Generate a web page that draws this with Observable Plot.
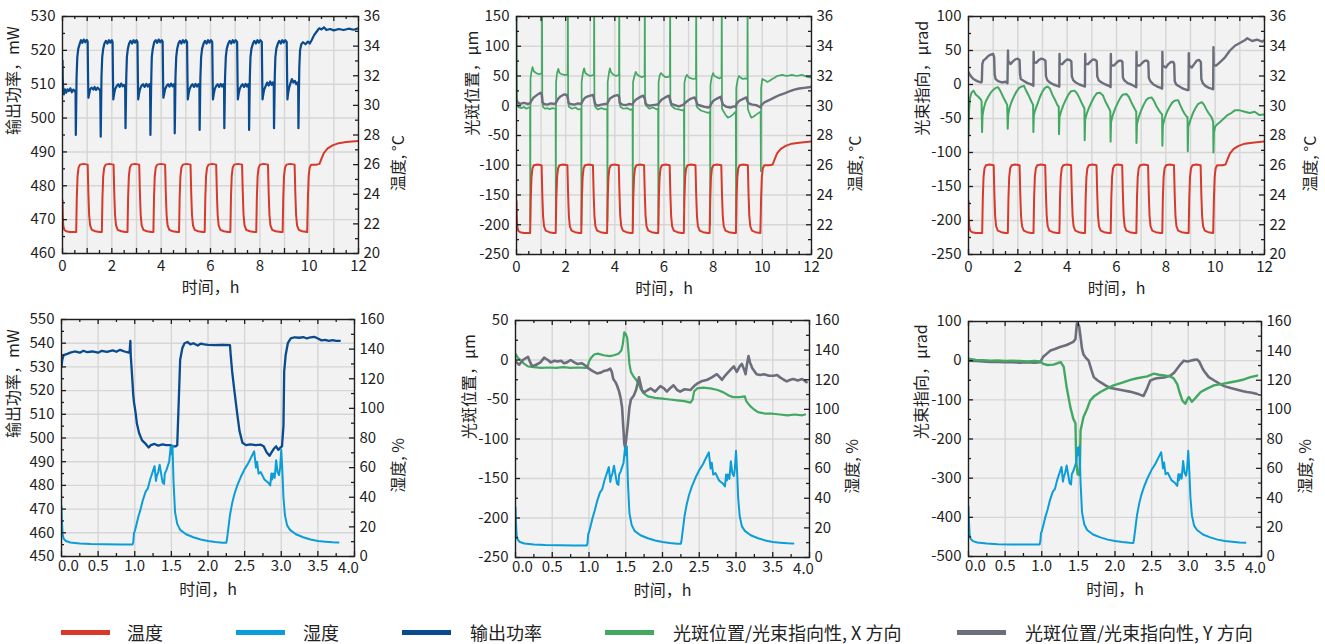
<!DOCTYPE html>
<html><head><meta charset="utf-8">
<script src="https://cdn.jsdelivr.net/npm/d3@7"></script>
<script src="https://cdn.jsdelivr.net/npm/@observablehq/plot@0.6"></script>
<style>
html,body{margin:0;padding:0;background:#fff;}
#root{position:relative;width:1325px;height:644px;overflow:hidden;font-family:"Noto Sans CJK SC","Noto Sans",sans-serif;}
.pnl{position:absolute;}
.pnl svg{overflow:visible;background:transparent;}
.sw{position:absolute;height:5px;top:630px;width:49px;}
.lt{position:absolute;top:619px;font-size:18px;line-height:26px;color:#222;white-space:pre;}
</style></head><body><div id="root"></div>
<script>
// ---------- colours ----------
const RED = "#d7392b", CYAN = "#0b9dd7", BLUE = "#0a4a8f", GREEN = "#43a862", GREY = "#6c6f7b";
const BG = "#f1f2f1", GRID = "#d5d6d5", INK = "#1e1e1e";

// ---------- tick arrays ----------
const hourLabels = [0, 2, 4, 6, 8, 10, 12];
const hourTicks = [0, 1, 2, 3, 4, 5, 6, 7, 8, 9, 10, 11, 12];
const hourMinor = [0.5, 1.5, 2.5, 3.5, 4.5, 5.5, 6.5, 7.5, 8.5, 9.5, 10.5, 11.5];
const hourGrid = [1, 2, 3, 4, 5, 6, 7, 8, 9, 10, 11];
const halfLabels = [0, 0.5, 1, 1.5, 2, 2.5, 3, 3.5, 4];
const halfMinor = [0.25, 0.75, 1.25, 1.75, 2.25, 2.75, 3.25, 3.75];
const halfGrid = [0.5, 1, 1.5, 2, 2.5, 3, 3.5];
const powerTopLabels = [460, 470, 480, 490, 500, 510, 520, 530];
const powerTopMinor = [465, 475, 485, 495, 505, 515, 525];
const tempLabels = [20, 22, 24, 26, 28, 30, 32, 34, 36];
const tempMinor = [21, 23, 25, 27, 29, 31, 33, 35];
const spotTopLabels = [-250, -200, -150, -100, -50, 0, 50, 100, 150];
const spotTopMinor = [-225, -175, -125, -75, -25, 25, 75, 125];
const beamTopLabels = [-250, -200, -150, -100, -50, 0, 50, 100];
const beamTopMinor = [-225, -175, -125, -75, -25, 25, 75];
const powerBotLabels = [450, 460, 470, 480, 490, 500, 510, 520, 530, 540, 550];
const powerBotMinor = [455, 465, 475, 485, 495, 505, 515, 525, 535, 545];
const humLabels = [0, 20, 40, 60, 80, 100, 120, 140, 160];
const humMinor = [10, 30, 50, 70, 90, 110, 130, 150];
const spotBotLabels = [-250, -200, -150, -100, -50, 0, 50];
const spotBotMinor = [-225, -175, -125, -75, -25, 25];
const beamBotLabels = [-500, -400, -300, -200, -100, 0, 100];
const beamBotMinor = [-450, -350, -250, -150, -50, 50];

// ---------- series (time h, value) ----------
const tempTop = [[0,23.6],[0.01,22.6],[0.03,21.9],[0.07,21.6],[0.15,21.5],[0.3,21.45],[0.555,21.45],
[0.58,23.8],[0.61,25.2],[0.65,25.8],[0.71,26.0],[0.85,26.05],[1.02,26.0],[1.05,24.0],[1.08,22.6],[1.12,21.9],[1.19,21.6],[1.33,21.5],[1.5,21.45],
[1.595,21.45],[1.62,23.8],[1.65,25.2],[1.69,25.8],[1.75,26.0],[1.9,26.05],[2.07,26.0],[2.10,24.0],[2.13,22.6],[2.17,21.9],[2.24,21.6],[2.38,21.5],[2.55,21.45],
[2.635,21.45],[2.66,23.8],[2.69,25.2],[2.73,25.8],[2.79,26.0],[2.94,26.05],[3.11,26.0],[3.14,24.0],[3.17,22.6],[3.21,21.9],[3.28,21.6],[3.42,21.5],[3.6,21.45],
[3.685,21.45],[3.71,23.8],[3.74,25.2],[3.78,25.8],[3.84,26.0],[3.99,26.05],[4.16,26.0],[4.19,24.0],[4.22,22.6],[4.26,21.9],[4.33,21.6],[4.47,21.5],[4.65,21.45],
[4.725,21.45],[4.75,23.8],[4.78,25.2],[4.82,25.8],[4.88,26.0],[5.03,26.05],[5.19,26.0],[5.22,24.0],[5.25,22.6],[5.29,21.9],[5.36,21.6],[5.5,21.5],[5.68,21.45],
[5.765,21.45],[5.79,23.8],[5.82,25.2],[5.86,25.8],[5.92,26.0],[6.07,26.05],[6.23,26.0],[6.26,24.0],[6.29,22.6],[6.33,21.9],[6.4,21.6],[6.54,21.5],[6.72,21.45],
[6.805,21.45],[6.83,23.8],[6.86,25.2],[6.9,25.8],[6.96,26.0],[7.11,26.05],[7.28,26.0],[7.31,24.0],[7.34,22.6],[7.38,21.9],[7.45,21.6],[7.59,21.5],[7.78,21.45],
[7.855,21.45],[7.88,23.8],[7.91,25.2],[7.95,25.8],[8.01,26.0],[8.16,26.05],[8.33,26.0],[8.36,24.0],[8.39,22.6],[8.43,21.9],[8.5,21.6],[8.64,21.5],[8.85,21.45],
[8.925,21.45],[8.95,23.8],[8.98,25.2],[9.02,25.8],[9.08,26.0],[9.23,26.05],[9.41,26.0],[9.44,24.0],[9.47,22.6],[9.51,21.9],[9.58,21.6],[9.72,21.5],[9.92,21.45],
[9.95,23.8],[9.98,25.2],[10.02,25.8],[10.08,26.0],[10.3,26.0],[10.42,26.05],[10.5,26.4],[10.6,26.8],[10.75,27.1],[10.95,27.3],[11.2,27.45],[11.5,27.52],[12,27.6]];

const powerTop = [[0,517],[0.01,512],[0.03,508],[0.06,507],[0.1,508.5],[0.15,507.5],[0.2,508.5],[0.26,508],[0.32,508.8],[0.38,507.6],[0.44,508.4],[0.5,508],[0.53,507.5],
[0.54,495],[0.555,503],[0.57,512],[0.6,518],[0.64,520.5],[0.7,522],[0.75,523],[0.8,522.2],[0.86,523.2],[0.92,522.4],[0.98,523.1],[1.02,522.6],[1.04,510],[1.05,506],[1.08,507],[1.12,508.5],[1.18,509],[1.25,508.4],[1.3,509.2],[1.36,508.3],[1.42,509],[1.48,508.6],[1.53,508],
[1.55,494.5],[1.565,503],[1.58,512],[1.61,518],[1.65,520.5],[1.7,522],[1.76,522.8],[1.82,522],[1.88,523],[1.94,522.3],[2.0,523],[2.03,522.5],[2.05,510],[2.06,505.5],[2.09,507],[2.13,508.5],[2.2,509.5],[2.26,510],[2.32,509.2],[2.38,510.2],[2.44,509.4],[2.5,509.8],[2.54,509],
[2.555,497],[2.57,504],[2.585,512],[2.61,518],[2.65,520.5],[2.7,522],[2.76,522.8],[2.82,522],[2.88,523],[2.94,522.3],[3.0,523],[3.04,522.5],[3.06,510],[3.07,505.5],[3.1,507],[3.14,508.5],[3.2,509.5],[3.27,510],[3.33,509.2],[3.4,510.1],[3.46,509.3],[3.52,510],[3.55,509.2],
[3.565,495],[3.58,503],[3.6,512],[3.62,518],[3.66,520.5],[3.72,522.5],[3.78,523],[3.84,522.2],[3.9,523.2],[3.96,522.4],[4.02,523],[4.06,522.6],[4.08,510],[4.09,506],[4.12,507],[4.16,508.5],[4.22,509.5],[4.28,510],[4.34,509.3],[4.4,510.2],[4.46,509.4],[4.52,510],[4.54,509.2],
[4.55,495.5],[4.565,503],[4.58,512],[4.61,518],[4.65,520.5],[4.7,522],[4.76,522.8],[4.82,522],[4.88,523],[4.94,522.3],[5.0,523],[5.05,522.5],[5.07,510],[5.08,505.5],[5.11,507],[5.15,508.5],[5.21,509.5],[5.27,510],[5.33,509.2],[5.39,510.1],[5.45,509.3],[5.51,510],[5.55,509.2],
[5.56,496.5],[5.575,504],[5.59,512],[5.62,518],[5.66,520.5],[5.72,522],[5.78,522.8],[5.84,522],[5.9,523],[5.96,522.3],[6.02,523],[6.07,522.5],[6.09,510],[6.1,505.5],[6.13,507],[6.17,508.5],[6.23,509.5],[6.29,510],[6.35,509.2],[6.41,510.1],[6.47,509.3],[6.52,510],[6.55,509.2],
[6.56,497],[6.575,504],[6.59,512],[6.62,518],[6.66,520.5],[6.72,522],[6.78,522.8],[6.84,522],[6.9,523],[6.96,522.3],[7.02,523],[7.08,522.5],[7.1,510],[7.11,505.5],[7.14,507],[7.18,508.5],[7.24,509.5],[7.3,510],[7.36,509.2],[7.42,510.1],[7.48,509.3],[7.53,510],[7.555,509.2],
[7.565,496.5],[7.58,504],[7.595,512],[7.62,518],[7.66,520.5],[7.72,522],[7.78,522.8],[7.84,522],[7.9,523],[7.96,522.3],[8.02,523],[8.08,522.5],[8.1,510],[8.11,505.5],[8.14,507],[8.18,508.5],[8.24,509.5],[8.3,510.5],[8.36,509.6],[8.42,510.8],[8.48,509.8],[8.53,510.5],[8.565,509.8],
[8.575,497],[8.59,504],[8.605,512],[8.63,518],[8.67,520.5],[8.73,522],[8.79,522.8],[8.85,522],[8.91,523],[8.97,522.3],[9.03,523],[9.09,522.5],[9.11,510],[9.12,505.5],[9.15,507.5],[9.19,509],[9.25,510.5],[9.3,511.5],[9.36,510.5],[9.42,511],[9.48,510],[9.53,510.5],[9.555,509.5],
[9.565,497],[9.58,505],[9.6,515],[9.63,520],[9.68,521.8],[9.75,522.4],[9.85,521.8],[9.95,522.6],[10.02,522],[10.1,523],[10.2,524.5],[10.3,525.5],[10.4,526.5],[10.5,526.2],[10.6,526.8],[10.7,526],[10.85,526.3],[11,525.9],[11.2,526.3],[11.4,526],[11.6,526.4],[11.8,526.1],[12,526.5]];

const spotXTop = [[0,160],[0.01,60],[0.02,10],[0.05,0],[0.1,-3],[0.2,-4],[0.3,-2],[0.4,-5],[0.5,-3],[0.55,-2],
[0.56,-195],[0.57,45],[0.6,55],[0.65,65],[0.7,58],[0.8,55],[0.9,53],[1.0,54],[1.035,55],[1.04,200],[1.05,5],[1.08,-2],[1.15,-5],[1.25,-4],[1.35,-6],[1.45,-4],[1.59,-5],
[1.6,-193],[1.61,40],[1.65,55],[1.7,62],[1.75,55],[1.85,53],[1.95,52],[2.08,52],[2.09,200],[2.1,5],[2.14,-2],[2.25,-5],[2.4,-3],[2.5,-6],[2.63,-5],
[2.64,-200],[2.65,40],[2.7,55],[2.75,63],[2.8,55],[2.9,52],[3.0,50],[3.15,52],[3.16,200],[3.17,5],[3.2,-2],[3.3,-6],[3.45,-4],[3.6,-6],[3.69,-5],
[3.7,-195],[3.71,40],[3.76,55],[3.8,63],[3.85,56],[3.95,52],[4.05,50],[4.17,52],[4.18,200],[4.19,5],[4.23,-2],[4.35,-5],[4.5,-4],[4.65,-7],[4.72,-5],
[4.73,-205],[4.74,40],[4.8,50],[4.85,57],[4.92,52],[5.0,50],[5.1,48],[5.21,50],[5.22,200],[5.23,5],[5.27,0],[5.4,-5],[5.55,-3],[5.7,-6],[5.76,-5],
[5.77,-200],[5.78,40],[5.83,52],[5.88,55],[5.95,52],[6.05,48],[6.15,48],[6.24,50],[6.25,200],[6.26,5],[6.3,0],[6.45,-5],[6.6,-6],[6.75,-8],[6.81,-6],
[6.82,-170],[6.83,38],[6.88,48],[6.93,52],[7.0,48],[7.1,46],[7.2,45],[7.3,46],[7.31,200],[7.32,0],[7.36,-3],[7.5,-8],[7.65,-10],[7.8,-12],[7.87,-10],
[7.88,-200],[7.89,35],[7.94,48],[8.0,55],[8.05,50],[8.15,48],[8.25,46],[8.34,48],[8.35,200],[8.36,-5],[8.4,-8],[8.5,-15],[8.6,-20],[8.7,-18],[8.8,-15],[8.92,-10],
[8.93,-190],[8.94,30],[9.0,45],[9.05,50],[9.1,48],[9.2,45],[9.3,46],[9.39,45],[9.4,200],[9.41,-5],[9.45,-10],[9.55,-20],[9.65,-18],[9.75,-15],[9.85,-12],[9.93,-10],
[9.94,-110],[9.95,30],[10.0,45],[10.1,43],[10.2,40],[10.3,42],[10.4,45],[10.5,47],[10.6,50],[10.8,52],[11.0,50],[11.2,52],[11.4,50],[11.6,52],[11.8,49],[12,47]];

const spotYTop = [[0,10],[0.05,6],[0.15,3],[0.3,5],[0.45,3],[0.55,4],
[0.6,8],[0.7,14],[0.8,17],[0.9,20],[0.98,22],[1.03,18],[1.06,6],[1.12,3],[1.25,2],[1.4,4],[1.55,3],
[1.6,5],[1.7,12],[1.8,16],[1.95,19],[2.05,18],[2.09,12],[2.12,5],[2.2,3],[2.35,2],[2.5,4],[2.62,3],
[2.65,5],[2.75,12],[2.85,15],[3.0,17],[3.12,18],[3.16,10],[3.2,3],[3.3,0],[3.45,2],[3.6,3],[3.68,3],
[3.72,6],[3.8,12],[3.95,16],[4.1,18],[4.17,16],[4.2,5],[4.3,2],[4.45,1],[4.6,3],[4.72,2],
[4.75,5],[4.85,10],[5.0,14],[5.15,17],[5.22,12],[5.26,3],[5.4,0],[5.55,1],[5.7,2],[5.76,2],
[5.8,5],[5.9,10],[6.05,14],[6.2,17],[6.25,10],[6.3,3],[6.45,1],[6.6,-1],[6.75,1],[6.8,2],
[6.84,4],[6.95,8],[7.1,12],[7.25,14],[7.31,8],[7.36,2],[7.5,0],[7.65,-2],[7.8,-3],[7.87,-2],
[7.9,2],[8.0,8],[8.15,12],[8.3,15],[8.35,8],[8.4,2],[8.55,-2],[8.7,-3],[8.85,-1],[8.92,-2],
[8.95,3],[9.05,8],[9.2,11],[9.35,14],[9.4,7],[9.45,4],[9.6,2],[9.75,1],[9.85,-1],[9.93,-3],
[9.98,2],[10.1,6],[10.3,10],[10.5,14],[10.7,18],[10.9,21],[11.1,24],[11.3,27],[11.5,29],[11.7,30],[11.9,31],[12,32]];

const beamXTop = [[0,-75],[0.02,-40],[0.06,-20],[0.12,-12],[0.2,-9],[0.3,-15],[0.4,-18],[0.5,-22],[0.53,-25],
[0.55,-70],[0.57,-45],[0.62,-35],[0.7,-25],[0.8,-18],[0.9,-12],[1.0,-8],[1.1,-5],[1.2,-4],[1.3,-10],[1.4,-18],[1.5,-25],[1.57,-30],
[1.59,-65],[1.61,-45],[1.66,-35],[1.75,-25],[1.85,-17],[1.95,-10],[2.05,-5],[2.15,-3],[2.25,-2],[2.35,-10],[2.45,-17],[2.55,-25],[2.62,-30],
[2.63,-70],[2.65,-45],[2.7,-38],[2.8,-28],[2.9,-18],[3.0,-10],[3.1,-5],[3.2,-3],[3.3,-6],[3.4,-15],[3.5,-22],[3.6,-30],[3.66,-33],
[3.67,-73],[3.69,-48],[3.75,-40],[3.85,-30],[3.95,-22],[4.05,-15],[4.15,-10],[4.3,-9],[4.4,-13],[4.5,-20],[4.6,-28],[4.67,-33],[4.7,-35],
[4.71,-82],[4.73,-52],[4.8,-42],[4.9,-33],[5.0,-25],[5.1,-18],[5.2,-13],[5.33,-12],[5.45,-16],[5.55,-25],[5.65,-32],[5.72,-37],[5.75,-40],
[5.76,-84],[5.78,-55],[5.85,-45],[5.95,-35],[6.05,-27],[6.15,-20],[6.25,-15],[6.4,-14],[6.5,-18],[6.6,-26],[6.7,-33],[6.77,-38],[6.8,-40],
[6.81,-86],[6.83,-58],[6.9,-48],[7.0,-38],[7.1,-30],[7.2,-23],[7.3,-20],[7.42,-19],[7.52,-24],[7.62,-32],[7.72,-38],[7.8,-42],[7.85,-44],
[7.86,-90],[7.88,-60],[7.95,-50],[8.05,-40],[8.15,-33],[8.25,-27],[8.35,-24],[8.5,-23],[8.58,-30],[8.67,-37],[8.76,-43],[8.84,-47],[8.88,-48],
[8.89,-98],[8.91,-62],[9.0,-52],[9.1,-42],[9.2,-35],[9.3,-29],[9.4,-27],[9.46,-26],[9.55,-30],[9.65,-37],[9.75,-43],[9.85,-48],[9.92,-55],
[9.93,-100],[9.95,-70],[10.0,-62],[10.1,-58],[10.2,-55],[10.35,-50],[10.5,-45],[10.65,-42],[10.8,-38],[11.0,-38],[11.2,-40],[11.4,-42],[11.6,-40],[11.8,-45],[12,-44]];

const beamYTop = [[0,18],[0.1,12],[0.2,8],[0.35,5],[0.5,3],[0.54,4],
[0.56,30],[0.6,35],[0.7,38],[0.8,42],[0.9,44],[1.0,45],[1.04,40],[1.06,15],[1.1,8],[1.2,5],[1.35,3],[1.5,4],[1.58,2],
[1.6,50],[1.61,35],[1.7,30],[1.8,34],[1.9,37],[2.0,38],[2.07,36],[2.09,15],[2.12,8],[2.25,5],[2.4,2],[2.55,0],[2.63,-2],
[2.64,48],[2.65,33],[2.75,32],[2.85,36],[2.95,38],[3.05,37],[3.12,35],[3.14,12],[3.2,6],[3.3,3],[3.45,0],[3.6,-2],[3.68,-3],
[3.69,45],[3.7,30],[3.8,30],[3.9,34],[4.0,37],[4.1,36],[4.17,34],[4.19,12],[4.25,6],[4.35,3],[4.5,0],[4.65,-2],[4.72,-3],
[4.73,45],[4.74,30],[4.85,30],[4.95,34],[5.05,37],[5.15,36],[5.2,34],[5.22,12],[5.28,6],[5.4,3],[5.55,0],[5.7,-2],[5.76,-4],
[5.77,45],[5.78,28],[5.9,28],[6.0,32],[6.1,35],[6.2,35],[6.24,33],[6.26,10],[6.32,6],[6.45,2],[6.6,0],[6.75,-3],[6.8,-4],
[6.81,48],[6.82,28],[6.95,28],[7.05,32],[7.15,35],[7.25,35],[7.29,33],[7.31,10],[7.37,5],[7.5,0],[7.65,-3],[7.8,-5],[7.85,-6],
[7.86,48],[7.87,28],[8.0,25],[8.1,30],[8.2,33],[8.3,33],[8.34,30],[8.36,5],[8.42,0],[8.55,-3],[8.7,-6],[8.85,-8],[8.92,-8],
[8.93,46],[8.94,28],[9.05,25],[9.15,30],[9.25,35],[9.35,36],[9.42,33],[9.44,8],[9.5,2],[9.6,-2],[9.75,-5],[9.85,-6],[9.92,-7],
[9.93,55],[9.94,28],[10.05,28],[10.2,33],[10.4,40],[10.6,50],[10.8,57],[11.0,61],[11.2,65],[11.3,68],[11.5,64],[11.7,66],[11.9,63],[12,65]];

const humidity = [[0,34],[0.005,25],[0.015,15],[0.03,12],[0.06,10.5],[0.12,9.5],[0.25,8.8],[0.4,8.4],[0.6,8.2],[0.8,8.1],[0.97,8.1],
[0.98,10],[0.99,16],[1.0,17],[1.02,21],[1.05,27],[1.08,32],[1.11,38],[1.15,44],[1.18,46],[1.21,52],[1.25,58],[1.27,61],[1.29,51],[1.3,54],[1.32,57],[1.34,62],[1.36,56],[1.38,50],[1.4,49],[1.41,56],[1.43,58],[1.45,61],[1.47,64],[1.49,74],[1.505,69],[1.515,75],
[1.53,50],[1.55,30],[1.58,22],[1.62,18],[1.7,15],[1.8,13],[1.9,11.5],[2.0,10.5],[2.1,9.8],[2.2,9.3],[2.25,9.2],
[2.26,12],[2.28,20],[2.3,28],[2.33,36],[2.36,42],[2.4,48],[2.45,54],[2.5,59],[2.55,63],[2.6,68],[2.63,71],[2.655,60],[2.67,64],[2.69,56],[2.72,57],[2.77,52],[2.82,50],[2.85,48],[2.865,56],[2.875,52],[2.89,56],[2.91,53],[2.93,65],[2.95,57],[2.97,55],[2.985,60],[3.0,72],[3.015,58],
[3.03,40],[3.05,28],[3.08,21],[3.12,18],[3.2,15],[3.3,13],[3.4,11.5],[3.5,10.5],[3.6,10],[3.7,9.6],[3.78,9.4]];

const powerBot = [[0,530],[0.01,533],[0.03,535],[0.08,535.5],[0.12,536],[0.18,536.5],[0.25,536],[0.3,536.8],[0.35,536.2],[0.42,536.5],[0.5,536],[0.55,536.8],[0.62,536.3],[0.7,537],[0.75,536.4],[0.8,537.2],[0.86,536.5],[0.92,536],[0.93,536.5],
[0.94,541],[0.945,535],[0.96,528],[0.98,518],[0.99,515],[1.01,511],[1.03,506],[1.06,502],[1.1,499],[1.15,497.5],[1.19,496],[1.22,497],[1.27,497.5],[1.32,496.8],[1.38,497.3],[1.43,497],[1.48,497],[1.52,496.5],[1.56,496.5],[1.58,497],
[1.6,515],[1.62,533],[1.65,538],[1.68,540],[1.72,540.5],[1.76,539.5],[1.8,540],[1.86,539],[1.9,539.8],[1.95,539.5],[2.0,539.3],[2.1,539.2],[2.2,539.3],[2.3,539.2],
[2.31,535],[2.33,528],[2.36,520],[2.4,510],[2.43,503],[2.47,498],[2.52,497],[2.58,497.3],[2.65,497],[2.72,497.2],[2.76,496.5],[2.8,494],[2.84,492.5],[2.87,494],[2.9,495.5],[2.93,496.5],[2.96,495],[2.99,496],[3.01,496.5],
[3.03,505],[3.04,528],[3.06,535],[3.09,540],[3.13,542],[3.18,542.5],[3.25,542.3],[3.3,542.6],[3.35,542],[3.4,542.5],[3.45,542.7],[3.5,542],[3.55,541.2],[3.6,541.4],[3.65,541],[3.7,541.3],[3.75,541],[3.8,541]];

const spotXBot = [[0,8],[0.03,3],[0.07,0],[0.12,-5],[0.17,-8],[0.25,-9],[0.35,-10],[0.45,-9.5],[0.55,-10],[0.65,-9],[0.75,-10],[0.85,-9.5],[0.95,-10],[0.98,-9],
[1.0,-2],[1.03,3],[1.07,7],[1.12,8],[1.2,6],[1.28,5],[1.34,6],[1.4,8],[1.44,12],[1.46,20],[1.48,35],[1.5,33],[1.52,28],[1.53,18],[1.55,-5],[1.57,-15],[1.6,-20],[1.64,-25],[1.67,-29],[1.7,-36],[1.74,-42],[1.8,-46],[1.9,-48],[2.0,-49],[2.1,-50],[2.2,-51],[2.3,-52],[2.38,-54],
[2.41,-50],[2.43,-40],[2.47,-36],[2.55,-35],[2.65,-36],[2.75,-38],[2.83,-41],[2.9,-45],[2.96,-47],[3.05,-47],[3.12,-46],[3.14,-52],[3.19,-58],[3.25,-63],[3.3,-66],[3.4,-68],[3.5,-68],[3.6,-69],[3.7,-70],[3.8,-69],[3.9,-70],[3.94,-69]];

const spotYBot = [[0,-2],[0.05,-6],[0.1,0],[0.17,4],[0.2,-3],[0.23,-8],[0.28,-6],[0.34,-3],[0.39,3],[0.44,0],[0.48,-3],[0.53,-1],[0.57,-2],[0.62,-1],[0.66,-4],[0.7,-3],[0.75,0],[0.8,-3],[0.84,-5],[0.9,-4],[0.95,-7],
[1.0,-11],[1.05,-14],[1.11,-17],[1.16,-16],[1.2,-14],[1.25,-13],[1.29,-11],[1.31,-15],[1.33,-24],[1.36,-28],[1.38,-32],[1.41,-40],[1.43,-48],[1.45,-60],[1.47,-90],[1.48,-106],[1.49,-110],[1.5,-105],[1.51,-97],[1.53,-80],[1.55,-60],[1.57,-50],
[1.61,-45],[1.64,-38],[1.66,-30],[1.68,-22],[1.7,-30],[1.72,-38],[1.75,-41],[1.8,-38],[1.84,-36],[1.9,-40],[1.97,-33],[2.02,-36],[2.06,-40],[2.1,-36],[2.15,-32],[2.2,-38],[2.24,-40],[2.3,-37],[2.38,-38],
[2.43,-33],[2.47,-30],[2.53,-27],[2.61,-25],[2.67,-22],[2.74,-18],[2.78,-22],[2.81,-25],[2.85,-20],[2.88,-17],[2.93,-12],[2.97,-8],[3.0,-13],[3.01,-15],[3.05,-8],[3.08,-5],[3.11,-12],[3.13,-18],[3.15,-5],[3.17,5],[3.19,-3],[3.22,-10],
[3.28,-18],[3.33,-19],[3.38,-18],[3.45,-20],[3.51,-20],[3.56,-19],[3.6,-22],[3.65,-25],[3.69,-27],[3.74,-25],[3.78,-24],[3.84,-26],[3.9,-24],[3.96,-28]];

const beamXBot = [[0,5],[0.1,2],[0.2,1],[0.3,0],[0.4,0.5],[0.5,-1],[0.6,0],[0.7,-1],[0.8,-2],[0.9,-1],[0.98,-2],
[1.02,-8],[1.08,-11],[1.16,-10],[1.22,-6],[1.26,-4],[1.3,-16],[1.34,-68],[1.39,-118],[1.43,-148],[1.46,-160],[1.47,-255],[1.49,-290],[1.51,-292],[1.52,-275],[1.53,-178],[1.57,-144],[1.62,-123],[1.66,-102],
[1.72,-90],[1.8,-80],[1.9,-70],[1.98,-63],[2.1,-56],[2.21,-49],[2.3,-45],[2.44,-40],[2.53,-33],[2.6,-36],[2.67,-38],[2.75,-40],[2.8,-45],[2.85,-60],[2.88,-80],[2.92,-102],[2.96,-110],[2.99,-98],[3.01,-93],[3.05,-105],[3.1,-95],
[3.17,-80],[3.25,-72],[3.35,-63],[3.45,-60],[3.58,-55],[3.67,-52],[3.76,-48],[3.85,-42],[3.94,-38]];

const beamYBot = [[0,0],[0.1,-1],[0.2,-2],[0.3,-3],[0.4,-3],[0.5,-4],[0.6,-4],[0.7,-5],[0.8,-4],[0.9,-5],[0.98,-4],
[1.02,10],[1.07,18],[1.12,26],[1.18,30],[1.25,35],[1.34,40],[1.43,48],[1.46,55],[1.48,95],[1.5,92],[1.51,88],[1.53,60],[1.55,30],[1.57,16],[1.6,8],[1.64,0],[1.68,-25],[1.71,-42],[1.76,-50],[1.8,-55],[1.87,-63],[1.94,-70],
[2.03,-73],[2.12,-76],[2.2,-79],[2.26,-82],[2.33,-86],[2.39,-90],[2.44,-70],[2.48,-51],[2.53,-47],[2.57,-45],[2.67,-43],[2.76,-38],[2.81,-30],[2.85,-20],[2.9,-8],[2.94,0],[2.99,-2],[3.03,0],[3.08,2],[3.12,3],[3.15,-2],
[3.17,-10],[3.2,-22],[3.23,-30],[3.28,-42],[3.35,-50],[3.42,-58],[3.49,-65],[3.58,-70],[3.67,-74],[3.75,-78],[3.8,-80],[3.87,-82],[3.94,-85]];

// ---------- panel builder ----------
const ML = 60, MR = 60, MT = 16, MB = 50;
const FONT = '"Noto Sans CJK SC","Noto Sans",sans-serif';

function panel(c) {
  const [y0, y1] = c.yDomain, [r0, r1] = c.rDomain;
  const toL = v => y0 + (v - r0) / (r1 - r0) * (y1 - y0);
  const fromL = v => r0 + (v - y0) / (y1 - y0) * (r1 - r0);
  const fw = c.frame[1] - c.frame[0], fh = c.frame[3] - c.frame[2];
  const tk = {stroke: INK, strokeWidth: 1.3};
  const marks = [
    Plot.frame({fill: BG, stroke: null}),
    Plot.gridX(c.xGrid, {stroke: GRID, strokeOpacity: 1, strokeWidth: 1.4}),
    Plot.gridY(c.yLabels, {stroke: GRID, strokeOpacity: 1, strokeWidth: 1.4}),
  ];
  for (const s of c.series) {
    marks.push(Plot.line(s.data, {x: d => d[0], y: s.right ? d => toL(d[1]) : d => d[1], stroke: s.color, strokeWidth: s.w, clip: true}));
  }
  const xl = c.xLabels.filter(d => d !== 0 && d !== c.xDomain[1]);
  marks.push(
    Plot.frame({stroke: INK, strokeWidth: 1.4}),
    Plot.tickY(c.yLabels, {y: d => d, insetRight: fw - 5, ...tk}),
    Plot.tickY(c.yMinor, {y: d => d, insetRight: fw - 3, ...tk}),
    Plot.tickY(c.rLabels, {y: d => toL(d), insetLeft: fw - 5, ...tk}),
    Plot.tickY(c.rMinor, {y: d => toL(d), insetLeft: fw - 3, ...tk}),
    Plot.tickX(c.xTicks, {x: d => d, insetTop: fh - 5, ...tk}),
    Plot.tickX(c.xTicks, {x: d => d, insetBottom: fh - 5, ...tk}),
    Plot.tickX(c.xMinor, {x: d => d, insetTop: fh - 3, ...tk}),
    Plot.tickX(c.xMinor, {x: d => d, insetBottom: fh - 3, ...tk}),
    Plot.axisX(xl, {tickSize: 0, tickPadding: c.xPad, tickFormat: c.xFmt, label: null, fill: INK}),
    Plot.axisX([0], {tickSize: 0, tickPadding: c.xPad, tickFormat: c.xFmt, label: null, dx: c.zeroDx, fill: INK}),
    Plot.axisX([c.xDomain[1]], {tickSize: 0, tickPadding: c.xPad + c.endDy, tickFormat: c.xFmt, label: null, dx: c.endDx, fill: INK}),
    Plot.axisY(c.yLabels, {anchor: "left", tickSize: 0, tickPadding: 7, tickFormat: d => String(d), label: null, fill: INK}),
    Plot.axisY(c.rLabels.map(toL), {anchor: "right", tickSize: 0, tickPadding: 5, tickFormat: d => String(Math.round(fromL(d))), label: null, fill: INK}),
    Plot.text([c.yTitle], {text: d => d, frameAnchor: "left", dx: -c.yTitleDx, rotate: -90, fontSize: 16, fill: INK}),
    Plot.text([c.rTitle], {text: d => d, frameAnchor: "right", dx: c.rTitleDx, rotate: -90, fontSize: 16, fill: INK}),
    Plot.text([c.xTitle], {text: d => d, frameAnchor: "bottom", dy: c.xTitleDy, fontSize: 16, fill: INK})
  );
  const svg = Plot.plot({
    width: fw + ML + MR, height: fh + MT + MB,
    marginLeft: ML, marginRight: MR, marginTop: MT, marginBottom: MB,
    x: {domain: c.xDomain}, y: {domain: c.yDomain},
    style: {fontSize: "15px", fontFamily: FONT, background: "transparent", overflow: "visible", color: INK},
    marks
  });
  const div = document.createElement("div");
  div.className = "pnl";
  div.style.left = (c.frame[0] - ML) + "px";
  div.style.top = (c.frame[2] - MT) + "px";
  div.appendChild(svg);
  document.getElementById("root").appendChild(div);
}

const topCommon = {xDomain: [0, 12], xLabels: hourLabels, xTicks: hourTicks, xMinor: hourMinor, xGrid: hourGrid,
  xFmt: d => String(d), xPad: 7, zeroDx: 0, endDx: 0, endDy: 0, rDomain: [20, 36], rLabels: tempLabels, rMinor: tempMinor, rTitle: "温度, °C", xTitle: "时间，h", xTitleDy: 39};
const botCommon = {xDomain: [0, 4], xLabels: halfLabels, xTicks: halfLabels, xMinor: halfMinor, xGrid: halfGrid,
  xFmt: d => d.toFixed(1), xPad: 4, zeroDx: 7, endDx: -6, endDy: 2, rDomain: [0, 160], rLabels: humLabels, rMinor: humMinor, rTitle: "湿度, %", xTitle: "时间，h", xTitleDy: 38};

panel({...topCommon, frame: [62, 358, 16, 253], yDomain: [460, 530], yLabels: powerTopLabels, yMinor: powerTopMinor,
  yTitle: "输出功率，mW", yTitleDx: 49, rTitleDx: 40,
  series: [{data: powerTop, color: BLUE, w: 2.2}, {data: tempTop, color: RED, w: 2, right: true}]});
panel({...topCommon, frame: [516, 811, 16, 254], yDomain: [-250, 150], yLabels: spotTopLabels, yMinor: spotTopMinor,
  yTitle: "光斑位置，µm", yTitleDx: 44, rTitleDx: 44,
  series: [{data: spotXTop, color: GREEN, w: 1.7}, {data: spotYTop, color: GREY, w: 2.4}, {data: tempTop, color: RED, w: 2, right: true}]});
panel({...topCommon, frame: [968, 1264, 16, 254], yDomain: [-250, 100], yLabels: beamTopLabels, yMinor: beamTopMinor,
  yTitle: "光束指向，µrad", yTitleDx: 46, rTitleDx: 46,
  series: [{data: beamXTop, color: GREEN, w: 2}, {data: beamYTop, color: GREY, w: 2.4}, {data: tempTop, color: RED, w: 2, right: true}]});
panel({...botCommon, frame: [61, 354, 319, 556], yDomain: [450, 550], yLabels: powerBotLabels, yMinor: powerBotMinor,
  yTitle: "输出功率，mW", yTitleDx: 48, rTitleDx: 44,
  series: [{data: powerBot, color: BLUE, w: 2.3}, {data: humidity, color: CYAN, w: 2, right: true}]});
panel({...botCommon, frame: [515, 809, 320, 557], yDomain: [-250, 50], yLabels: spotBotLabels, yMinor: spotBotMinor,
  yTitle: "光斑位置，µm", yTitleDx: 46, rTitleDx: 43,
  series: [{data: spotXBot, color: GREEN, w: 2.2}, {data: spotYBot, color: GREY, w: 2.6}, {data: humidity, color: CYAN, w: 2, right: true}]});
panel({...botCommon, frame: [968, 1261, 321, 556], yDomain: [-500, 100], yLabels: beamBotLabels, yMinor: beamBotMinor,
  yTitle: "光束指向，µrad", yTitleDx: 47, rTitleDx: 44,
  series: [{data: beamYBot, color: GREY, w: 2.6}, {data: beamXBot, color: GREEN, w: 2.4}, {data: humidity, color: CYAN, w: 2, right: true}]});

// ---------- legend ----------
const legendItems = [
  {color: RED, sx: 61, tx: 127, text: "温度"},
  {color: CYAN, sx: 236, tx: 303, text: "湿度"},
  {color: BLUE, sx: 402, tx: 470, text: "输出功率"},
  {color: GREEN, sx: 605, tx: 673, text: "光斑位置/光束指向性, X 方向"},
  {color: GREY, sx: 957, tx: 1025, text: "光斑位置/光束指向性, Y 方向"}
];
const root = document.getElementById("root");
for (const it of legendItems) {
  const sw = document.createElement("div");
  sw.className = "sw"; sw.style.left = it.sx + "px"; sw.style.background = it.color;
  const t = document.createElement("div");
  t.className = "lt"; t.style.left = it.tx + "px"; t.textContent = it.text;
  root.appendChild(sw); root.appendChild(t);
}
</script></body></html>
